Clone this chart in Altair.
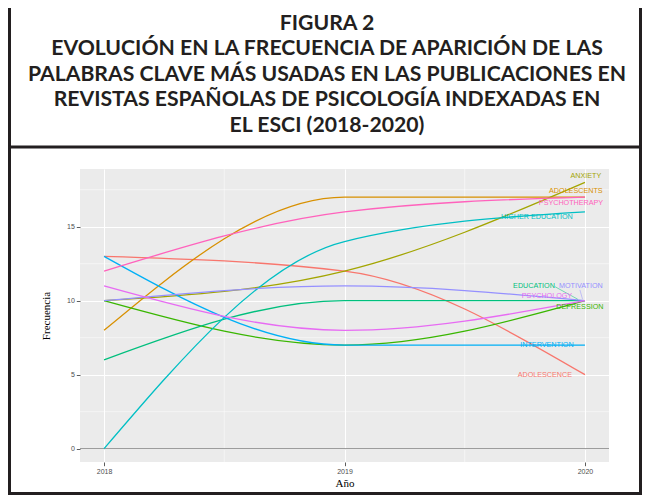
import altair as alt
import pandas as pd

# ---- data ----
keywords = ["ADOLESCENCE", "ADOLESCENTS", "ANXIETY", "DEPRESSION", "EDUCATION",
            "HIGHER EDUCATION", "INTERVENTION", "MOTIVATION", "PSYCHOLOGY", "PSYCHOTHERAPY"]
years = [2018, 2019, 2020]
v2018 = [13, 8, 10, 10, 6, 0, 13, 10, 11, 12]
v2019 = [12, 17, 12, 7, 10, 14, 7, 11, 8, 16]
v2020 = [5, 17, 18, 10, 10, 16, 7, 10, 10, 17]
palette = ["#F8766D", "#D89000", "#A3A500", "#39B600", "#00BF7D",
           "#00BFC4", "#00B0F6", "#9590FF", "#E76BF3", "#FF62BC"]

# label placement (data units, repelled labels at the right end)
label_x = [2019.833, 2019.962, 2020.004, 2019.979, 2019.788,
           2019.80, 2019.842, 2019.983, 2019.842, 2019.942]
label_y = [4.96, 17.41, 18.4, 9.57, 11.0, 15.68, 6.99, 11.0, 10.32, 16.6]

# leader segments
seg_kw = ["EDUCATION", "MOTIVATION"]
seg_x = [2019.875, 2019.979]
seg_y = [10.95, 10.73]
seg_x2 = [2019.97, 2019.99]
seg_y2 = [10.1, 10.1]

x_ticks = [2018, 2019, 2020]
y_ticks = [0, 5, 10, 15]
x_minor = [2018.5, 2019.5]
y_minor = [2.5, 7.5, 12.5, 17.5]

title_lines = ["FIGURA 2",
               "EVOLUCIÓN EN LA FRECUENCIA DE APARICIÓN DE LAS",
               "PALABRAS CLAVE MÁS USADAS EN LAS PUBLICACIONES EN",
               "REVISTAS ESPAÑOLAS DE PSICOLOGÍA INDEXADAS EN",
               "EL ESCI (2018-2020)"]

rows = []
for i, k in enumerate(keywords):
    for y, v in zip(years, [v2018[i], v2019[i], v2020[i]]):
        rows.append({"keyword": k, "year": y, "value": v})
df = pd.DataFrame(rows)
lab = pd.DataFrame({"keyword": keywords, "lx": label_x, "ly": label_y})
seg = pd.DataFrame({"keyword": seg_kw, "x": seg_x, "y": seg_y, "x2": seg_x2, "y2": seg_y2})

W, H = 529, 293
PL, PT = 72, 161
CW, CH = 634, 487
xscale = alt.Scale(domain=[2017.9, 2020.1], nice=False, zero=False)
yscale = alt.Scale(domain=[-0.9, 18.9], nice=False, zero=False)
cscale = alt.Scale(domain=keywords, range=palette)

axis_common = dict(labelFont="Liberation Sans", labelFontSize=7, labelColor="#4D4D4D",
                   tickColor="#333333", tickSize=3.7, tickWidth=0.8, domain=False,
                   grid=True, gridColor="#FFFFFF", gridWidth=1,
                   titleFont="Liberation Serif", titleFontSize=11, titleFontWeight="normal",
                   titleColor="#000000")

xaxis = alt.Axis(values=x_ticks, format="d", title="Año", labelPadding=2,
                 titlePadding=3, **axis_common)
yaxis = alt.Axis(values=y_ticks, format="d", title="Frecuencia", labelPadding=2,
                 titleX=-29, **axis_common)

minor_x = alt.Chart(pd.DataFrame({"x": x_minor})).mark_rule(color="#FFFFFF", strokeWidth=0.5).encode(
    x=alt.X("x:Q", scale=xscale, axis=xaxis))
minor_y = alt.Chart(pd.DataFrame({"y": y_minor})).mark_rule(color="#FFFFFF", strokeWidth=0.5).encode(
    y=alt.Y("y:Q", scale=yscale, axis=yaxis))

hline = alt.Chart(pd.DataFrame({"y": [0]})).mark_rule(color="#8C8C8C", strokeWidth=1).encode(
    y=alt.Y("y:Q", scale=yscale), x=alt.value(0), x2=alt.value(W))

lines = alt.Chart(df).mark_line(interpolate="monotone", strokeWidth=1.3).encode(
    x=alt.X("year:Q", scale=xscale, axis=xaxis),
    y=alt.Y("value:Q", scale=yscale, axis=yaxis),
    color=alt.Color("keyword:N", scale=cscale, legend=None))

labels = alt.Chart(lab).mark_text(font="Liberation Sans", fontSize=7.2, align="center",
                                  baseline="middle").encode(
    x=alt.X("lx:Q", scale=xscale), y=alt.Y("ly:Q", scale=yscale), text="keyword:N",
    color=alt.Color("keyword:N", scale=cscale, legend=None))

segs = alt.Chart(seg).mark_rule(strokeWidth=0.5).encode(
    x=alt.X("x:Q", scale=xscale), y=alt.Y("y:Q", scale=yscale),
    x2="x2:Q", y2="y2:Q",
    color=alt.Color("keyword:N", scale=cscale, legend=None))

one = pd.DataFrame({"a": [0]})
frame_col = "#231F20"
left_x = -PL + 1.5
right_x = CW - PL - 1.5
bottom_y = CH - PT - 1.5
left_b = alt.Chart(one).mark_rule(color=frame_col, strokeWidth=3).encode(
    x=alt.value(left_x), y=alt.value(-PT), y2=alt.value(bottom_y + 1.5))
right_b = alt.Chart(one).mark_rule(color=frame_col, strokeWidth=3).encode(
    x=alt.value(right_x), y=alt.value(-PT), y2=alt.value(bottom_y + 1.5))
sep_b = alt.Chart(one).mark_rule(color=frame_col, strokeWidth=3).encode(
    y=alt.value(-22), x=alt.value(-PL), x2=alt.value(CW - PL))
bottom_b = alt.Chart(one).mark_rule(color=frame_col, strokeWidth=3).encode(
    y=alt.value(bottom_y), x=alt.value(-PL), x2=alt.value(CW - PL))

title_layers = []
for i, line_text in enumerate(title_lines):
    title_layers.append(
        alt.Chart(one).mark_text(font="Lato", fontWeight="bold", fontSize=21.2,
                                 align="center", baseline="alphabetic",
                                 color="#231F20").encode(
            x=alt.value(247), y=alt.value(-139.5 + 25.5 * i), text=alt.value(line_text)))

chart = alt.layer(minor_x, minor_y, hline, lines, segs, labels,
                  left_b, right_b, sep_b, bottom_b, *title_layers).properties(
    width=W, height=H,
    autosize=alt.AutoSizeParams(type="none"),
    padding={"left": PL, "top": PT, "right": CW - PL - W, "bottom": CH - PT - H},
    background="#FFFFFF",
).configure_view(fill="#EBEBEB", strokeWidth=0)

chart.save("out.html", embed_options={"renderer": "svg", "actions": False})
